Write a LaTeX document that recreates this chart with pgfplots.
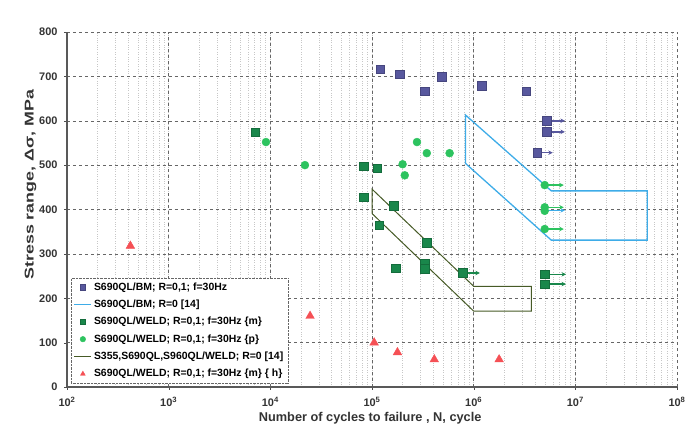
\documentclass[border=0pt]{standalone}
\usepackage{fontspec}
\setmainfont{Liberation Sans}
\usepackage{pgfplots}
\pgfplotsset{compat=1.18}
\usetikzlibrary{arrows.meta}
\definecolor{bmblue}{RGB}{88,88,158}
\definecolor{lineblue}{RGB}{62,172,232}
\definecolor{wgreen}{RGB}{25,135,75}
\definecolor{pgreen}{RGB}{45,195,95}
\definecolor{oliveline}{RGB}{70,90,38}
\definecolor{tri}{RGB}{245,80,85}
\begin{document}
\begin{tikzpicture}
\path[use as bounding box] (-67bp,-42bp) rectangle (632bp,387bp);
\begin{axis}[
  at={(0,0)}, anchor=south west,
  scale only axis, width=610bp, height=355bp,
  xmode=log, xmin=1e2, xmax=1e8, ymin=0, ymax=800,
  axis x line*=bottom, axis y line*=left,
  axis line style={black!65, line width=1.1pt},
  xtick={1e2,1e3,1e4,1e5,1e6,1e7,1e8},
  xticklabels={\textbf{10\textsuperscript{2}},\textbf{10\textsuperscript{3}},\textbf{10\textsuperscript{4}},\textbf{10\textsuperscript{5}},\textbf{10\textsuperscript{6}},\textbf{10\textsuperscript{7}},\textbf{10\textsuperscript{8}}},
  ytick={0,100,200,300,400,500,600,700,800},
  yticklabels={0,100,200,300,400,500,600,700,800},
  ticklabel style={font=\bfseries\fontsize{11}{13}\selectfont, black!80},
  xticklabel style={yshift=-4bp},
  yticklabel style={xshift=-3bp},
  tick align=outside, major tick length=3pt, minor tick length=0pt,
  tick style={black!70},
  xmajorgrids, xminorgrids, ymajorgrids,
  major grid style={black!60, dashed, line width=0.5pt},
  minor grid style={black!22, dotted, line width=0.4pt},
  xlabel={Number of cycles to failure , N, cycle},
  ylabel={\scalebox{1.4}[1]{Stress range, Δσ, MPa}},
  label style={font=\bfseries\fontsize{12.8}{15}\selectfont, black!80},
  xlabel style={at={(axis description cs:0.497,-0.087)}, anchor=center},
  ylabel style={at={(axis description cs:-0.06,0.57)}, anchor=center},
  legend cell align=left,
  legend image post style={mark size=2.8pt},
  legend style={at={(axis description cs:0.0066,0.011)}, anchor=south west,
    draw=black!60, densely dotted, fill=white,
    font=\bfseries\fontsize{10.5}{12}\selectfont,
    row sep=4.3pt, inner sep=2.5pt},
]
% runout arrows
\addplot[forget plot, solid, draw=bmblue, line width=1.5pt, -{Stealth[length=4.5pt,width=4.5pt]}] coordinates {(5.25e6,600) (7.9e6,600)};
\addplot[forget plot, solid, draw=bmblue, line width=1.5pt, -{Stealth[length=4.5pt,width=4.5pt]}] coordinates {(5.25e6,575) (7.9e6,575)};
\addplot[forget plot, solid, draw=bmblue, line width=1.5pt, -{Stealth[length=4.5pt,width=4.5pt]}] coordinates {(4.2e6,528) (6.0e6,528)};
\addplot[forget plot, solid, draw=lineblue, line width=1.5pt, -{Stealth[length=4.5pt,width=4.5pt]}] coordinates {(5e6,398) (7.9e6,398)};
\addplot[forget plot, solid, draw=pgreen, line width=1.5pt, -{Stealth[length=4.5pt,width=4.5pt]}] coordinates {(5e6,455) (7.7e6,455)};
\addplot[forget plot, solid, draw=pgreen, line width=1.5pt, -{Stealth[length=4.5pt,width=4.5pt]}] coordinates {(5e6,405) (7.7e6,405)};
\addplot[forget plot, solid, draw=pgreen, line width=1.5pt, -{Stealth[length=4.5pt,width=4.5pt]}] coordinates {(5e6,356) (7.7e6,356)};
\addplot[forget plot, solid, draw=wgreen, line width=1.5pt, -{Stealth[length=4.5pt,width=4.5pt]}] coordinates {(5e6,254) (8.1e6,254)};
\addplot[forget plot, solid, draw=wgreen, line width=1.5pt, -{Stealth[length=4.5pt,width=4.5pt]}] coordinates {(5e6,232) (8.1e6,232)};
\addplot[forget plot, solid, draw=wgreen, line width=1.5pt, -{Stealth[length=4.5pt,width=4.5pt]}] coordinates {(7.8e5,257) (1.15e6,257)};
% series
\addplot[only marks, mark=square*, mark size=4.3pt, color=bmblue, mark options={solid, draw=bmblue!80!black, fill=bmblue}]
  coordinates {(1.2e5,716) (1.88e5,705) (3.3e5,667) (4.86e5,699) (1.2e6,679) (3.3e6,667) (5.25e6,600) (5.25e6,575) (4.2e6,528)};
\addlegendentry{S690QL/BM; R=0,1; f=30Hz}
\addplot[solid, draw=lineblue, line width=1.3pt]
  coordinates {(8.3e5,504) (8.3e5,613) (5.8e6,442) (5.1e7,442) (5.1e7,331) (5.8e6,331) (8.3e5,504)};
\addlegendentry{S690QL/BM; R=0 [14]}
\addplot[only marks, mark=square*, mark size=4.3pt, color=wgreen, mark options={solid, draw=wgreen!80!black, fill=wgreen}]
  coordinates {(7.1e3,574) (8.3e4,498) (1.12e5,493) (8.3e4,428) (1.18e5,365) (1.64e5,408) (3.46e5,325) (1.72e5,268) (3.3e5,279) (3.3e5,266) (7.8e5,257) (5e6,254) (5e6,232)};
\addlegendentry{S690QL/WELD; R=0,1; f=30Hz \{m\}}
\addplot[only marks, mark=*, mark size=4pt, color=pgreen, mark options={solid, draw=pgreen, fill=pgreen}]
  coordinates {(9.06e3,552) (2.19e4,500) (2.77e5,552) (3.46e5,527) (5.8e5,527) (2.0e5,502) (2.1e5,477) (5e6,455) (5e6,405) (5e6,397) (5e6,356)};
\addlegendentry{S690QL/WELD; R=0,1; f=30Hz \{p\}}
\addplot[solid, draw=oliveline, line width=1pt]
  coordinates {(1e5,391) (1e5,446) (1e6,227) (3.7e6,227) (3.7e6,171) (1e6,171) (1e5,391)};
\addlegendentry{S355,S690QL,S960QL/WELD; R=0 [14]}
\addplot[only marks, mark=triangle*, mark size=5pt, color=tri, mark options={solid, draw=tri, fill=tri}]
  coordinates {(4.2e2,318) (2.46e4,160) (1.05e5,100) (1.78e5,78) (4.1e5,62) (1.78e6,62)};
\addlegendentry{S690QL/WELD; R=0,1; f=30Hz \{m\} \{ h\}}
\end{axis}
\end{tikzpicture}
\end{document}
